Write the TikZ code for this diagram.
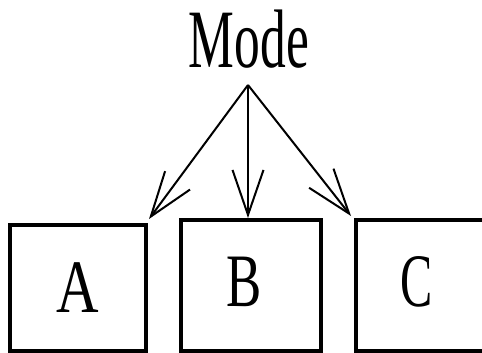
\documentclass[tikz,border=0pt]{standalone}
\usepackage{fontspec}
\setmainfont{Liberation Serif}
\usetikzlibrary{arrows.meta}
\begin{document}
\begin{tikzpicture}[x=1pt,y=-1pt,
  frame/.style={draw=black,line width=4pt,inner sep=0pt,outer sep=0pt},
  letter/.style={anchor=base,inner sep=0pt},
  branch/.style={line width=2pt,-{Straight Barb[length=45pt,width=31pt,line width=2pt]}}]
  \useasboundingbox (0,0) rectangle (482,353);
  \clip (0,0) rectangle (482,353);
  % title
  \node[letter] (mode) at (249,67)
    {\scalebox{0.62}[1]{\fontsize{83}{83}\selectfont Mode}};
  % three boxes
  \node[frame,minimum width=136pt,minimum height=126pt] (boxA) at (78,288) {};
  \node[frame,minimum width=140pt,minimum height=131pt] (boxB) at (251,285.5) {};
  \node[frame,minimum width=134pt,minimum height=131pt] (boxC) at (423,285.5) {};
  % box labels
  \node[letter] (labA) at (78,312) {\scalebox{0.78}[1]{\fontsize{75.5}{75.5}\selectfont A}};
  \node[letter] (labB) at (244,306) {\scalebox{0.7}[1]{\fontsize{75.5}{75.5}\selectfont B}};
  \node[letter] (labC) at (417,306) {\scalebox{0.64}[1]{\fontsize{75.5}{75.5}\selectfont C}};
  % branching arrows
  \coordinate (apex) at (248,85);
  \coordinate (tipA) at (149,219);
  \coordinate (tipB) at (248,218);
  \coordinate (tipC) at (351,216);
  \draw[branch] (apex) -- (tipA);
  \draw[branch] (apex) -- (tipB);
  \draw[branch] (apex) -- (tipC);
\end{tikzpicture}
\end{document}
